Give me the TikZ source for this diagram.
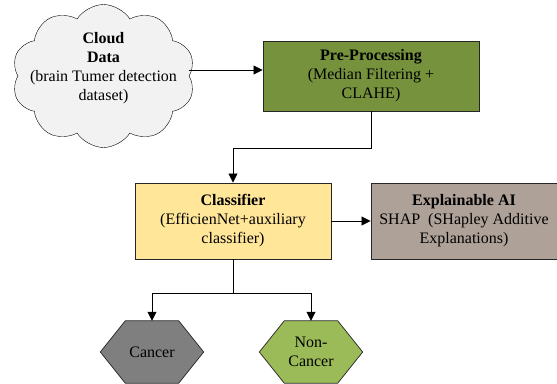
\documentclass[tikz,border=0pt]{standalone}
\usepackage{fontspec}
\setmainfont{Liberation Serif}
\usetikzlibrary{arrows.meta,positioning,shapes.symbols,backgrounds,calc}
\definecolor{flowCloudGray}{RGB}{242, 242, 242}
\definecolor{flowOlive}{RGB}{118, 146, 60}
\definecolor{flowLightYellow}{RGB}{255, 230, 153}
\definecolor{flowTaupe}{RGB}{174, 161, 152}
\definecolor{flowDarkGray}{RGB}{127, 127, 127}
\definecolor{flowLightGreen}{RGB}{155, 187, 89}
% hexagon drawn behind a named node
\newcommand{\hexbehind}[2]{%
  \begin{pgfonlayer}{background}
    \draw[draw=black!85, line width=0.7pt, fill=#2]
      (#1.west) -- ([xshift=25pt]#1.north west) -- ([xshift=-25pt]#1.north east)
      -- (#1.east) -- ([xshift=-25pt]#1.south east) -- ([xshift=25pt]#1.south west) -- cycle;
  \end{pgfonlayer}}

\begin{document}
\begin{tikzpicture}[
  x=1pt, y=-1pt,
  every node/.style={font=\fontsize{16}{19}\selectfont},
  box/.style={draw=black!85, line width=0.9pt, align=center, inner sep=2pt},
  hexa/.style={minimum width=103pt, minimum height=62pt, inner sep=0pt, align=center},
  arrow/.style={-{Triangle[length=9pt,width=9pt]}, line width=0.8pt}
]
\useasboundingbox (0,0) rectangle (557,383);
\node[cloud, cloud puffs=10, cloud puff arc=115, aspect=1.28, draw, fill=flowCloudGray,
      minimum width=183pt, minimum height=143pt, inner sep=0pt] (cloud) at (103.5,76) {};
\node[align=center] (cloudtext) at (103.5,68) {\textbf{Cloud}\\\textbf{Data}\\(brain Tumer detection\\dataset)};
\node[box, fill=flowOlive, minimum width=216pt, minimum height=70pt] (prep) at (371,76)
  {\textbf{Pre-Processing}\\(Median Filtering +\\CLAHE)};
\node[box, fill=flowLightYellow, minimum width=196pt, minimum height=76pt] (clf) at (233,221)
  {\textbf{Classifier}\\(EfficienNet+auxiliary\\classifier)};
\node[box, fill=flowTaupe, minimum width=186pt, minimum height=76pt] (xai) at (464,221)
  {\textbf{Explainable AI}\\SHAP\ \ (SHapley Additive\\Explanations)};
\node[hexa] (cancer) at (152,352) {Cancer};
\hexbehind{cancer}{flowDarkGray}
\node[hexa] (noncancer) at (311,352) {Non-\\Cancer};
\hexbehind{noncancer}{flowLightGreen}
% connectors
\draw[arrow] ([yshift=6pt]cloud.east) -- ([yshift=6pt]cloud.east -| prep.west);
\draw[arrow] (prep.south) |- (233,148) -- (clf.north);
\draw[arrow] (clf.east) -- (xai.west);
\draw[line width=0.8pt] (clf.south) -- (233,293) coordinate (split);
\draw[arrow] (split) -| (cancer.north);
\draw[arrow] (split) -| (noncancer.north);
\end{tikzpicture}
\end{document}
